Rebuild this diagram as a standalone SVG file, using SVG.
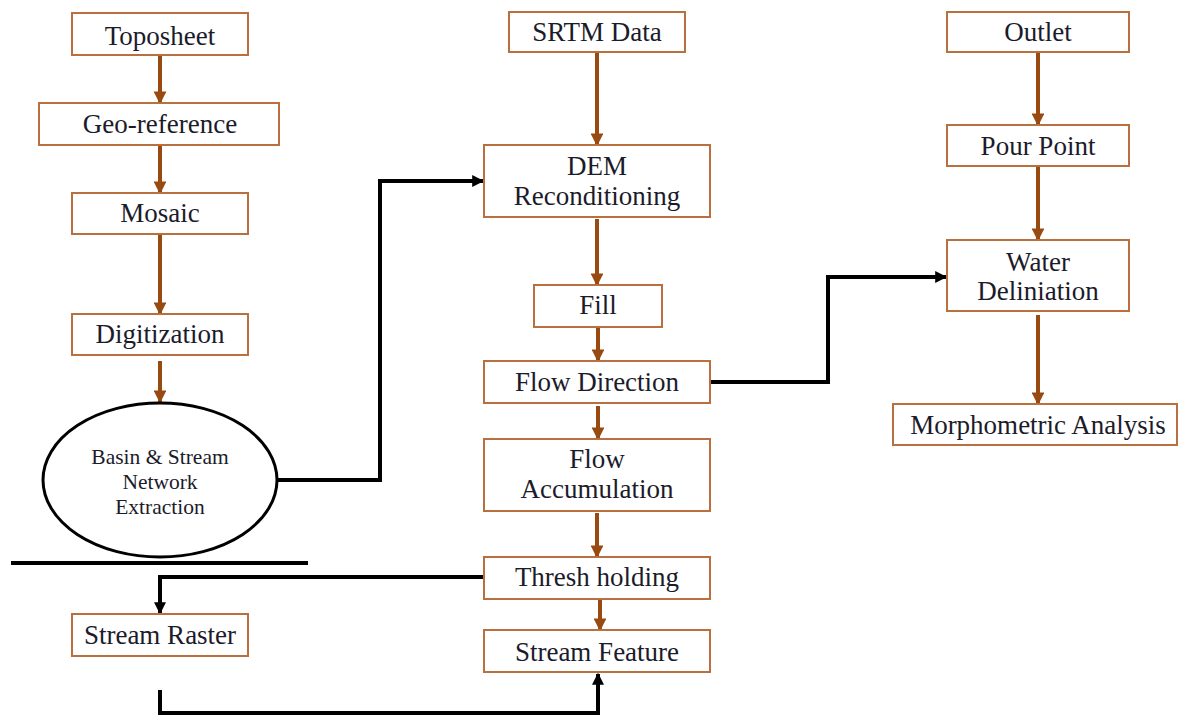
<svg xmlns="http://www.w3.org/2000/svg" width="1178" height="715" viewBox="0 0 1178 715">
<defs>
<style>
.box{fill:#fff;stroke:#B8703E;stroke-width:2}
.t{font-family:"Liberation Serif","Times New Roman",serif;font-size:27px;fill:#1b1b2a;text-anchor:middle}
.ts{font-family:"Liberation Serif","Times New Roman",serif;font-size:21.5px;fill:#1b1b2a;text-anchor:middle}
.br{stroke:#994A10;stroke-width:4;fill:none;marker-end:url(#ab)}
.bk{stroke:#000;stroke-width:4;fill:none}
.bka{stroke:#000;stroke-width:4;fill:none;marker-end:url(#ak)}
</style>
<marker id="ab" viewBox="0 0 10 10" refX="9" refY="5" markerWidth="3.2" markerHeight="3.2" orient="auto" markerUnits="strokeWidth">
<path d="M0,0 L10,5 L0,10 Z" fill="#994A10"/>
</marker>
<marker id="ak" viewBox="0 0 10 10" refX="9" refY="5" markerWidth="3" markerHeight="3" orient="auto" markerUnits="strokeWidth">
<path d="M0,0 L10,5 L0,10 Z" fill="#000"/>
</marker>
</defs>
<rect width="1178" height="715" fill="#fff"/>
<g id="connectors">
<path class="br" d="M160,55 V103"/>
<path class="br" d="M160,145 V193"/>
<path class="br" d="M160,234 V314"/>
<path class="br" d="M160,361 V402"/>
<path class="br" d="M597,52 V145"/>
<path class="br" d="M597,219 V285"/>
<path class="br" d="M598,327 V361"/>
<path class="br" d="M598,406 V439"/>
<path class="br" d="M597,513 V557"/>
<path class="br" d="M600,599 V630"/>
<path class="br" d="M1038,52 V125"/>
<path class="br" d="M1038,166 V240"/>
<path class="br" d="M1038,315 V404"/>
<path class="bka" d="M277,480 H380 V181 H483"/>
<path class="bka" d="M710,382 H828 V277 H946"/>
<path class="bka" d="M484,577 H160 V613"/>
<path class="bka" d="M160,690 V713 H598 V674"/>
<path class="bk" d="M11,563 H308"/>
</g>
<g id="toposheet"><rect class="box" x="72" y="13" width="176" height="42"/><text class="t" x="160" y="45">Toposheet</text></g>
<g id="georef"><rect class="box" x="39" y="103" width="240" height="42"/><text class="t" x="160" y="133">Geo-reference</text></g>
<g id="mosaic"><rect class="box" x="72" y="193" width="176" height="41"/><text class="t" x="160" y="222">Mosaic</text></g>
<g id="digitization"><rect class="box" x="72" y="314" width="176" height="41"/><text class="t" x="160" y="343">Digitization</text></g>
<g id="basin"><ellipse cx="160" cy="480" rx="117" ry="77" fill="#fff" stroke="#000" stroke-width="3"/>
<text class="ts" x="160" y="464">Basin &amp; Stream</text><text class="ts" x="160" y="489">Network</text><text class="ts" x="160" y="514">Extraction</text></g>
<g id="streamraster"><rect class="box" x="72" y="614" width="176" height="42"/><text class="t" x="160" y="644">Stream Raster</text></g>
<g id="srtm"><rect class="box" x="509" y="12" width="176" height="40"/><text class="t" x="597" y="41">SRTM Data</text></g>
<g id="dem"><rect class="box" x="484" y="145" width="226" height="72"/><text class="t" x="597" y="175">DEM</text><text class="t" x="597" y="205">Reconditioning</text></g>
<g id="fill"><rect class="box" x="534" y="285" width="128" height="42"/><text class="t" x="598" y="314">Fill</text></g>
<g id="flowdir"><rect class="box" x="484" y="361" width="226" height="42"/><text class="t" x="597" y="391">Flow Direction</text></g>
<g id="flowacc"><rect class="box" x="484" y="439" width="226" height="72"/><text class="t" x="597" y="468">Flow</text><text class="t" x="597" y="498">Accumulation</text></g>
<g id="thresh"><rect class="box" x="484" y="557" width="226" height="42"/><text class="t" x="597" y="586">Thresh holding</text></g>
<g id="streamfeature"><rect class="box" x="484" y="630" width="226" height="42"/><text class="t" x="597" y="661">Stream Feature</text></g>
<g id="outlet"><rect class="box" x="947" y="12" width="182" height="40"/><text class="t" x="1038" y="41">Outlet</text></g>
<g id="pourpoint"><rect class="box" x="947" y="125" width="182" height="41"/><text class="t" x="1038" y="155">Pour Point</text></g>
<g id="water"><rect class="box" x="947" y="240" width="182" height="71"/><text class="t" x="1038" y="271">Water</text><text class="t" x="1038" y="300">Deliniation</text></g>
<g id="morph"><rect class="box" x="893" y="404" width="284" height="41"/><text class="t" x="1038" y="434">Morphometric Analysis</text></g>
</svg>
